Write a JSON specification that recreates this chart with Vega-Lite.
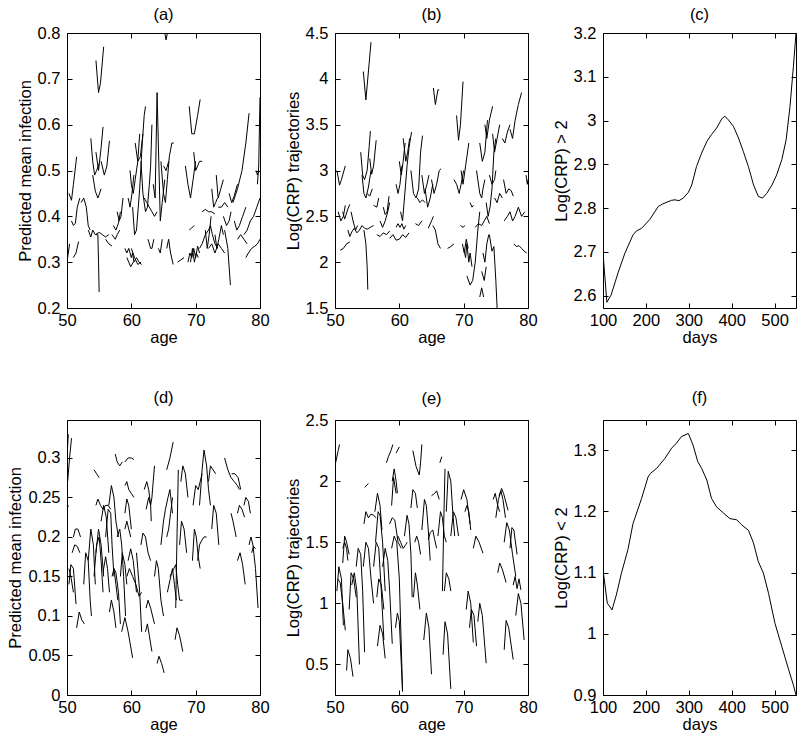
{
"$schema": "https://vega.github.io/schema/vega-lite/v6.json",
"padding": {"left": 7, "top": 6, "right": 0, "bottom": 0},
"background": "white",
"config": {
  "font": "Liberation Sans",
  "view": {"stroke": "black", "strokeWidth": 1},
  "axis": {"grid": false, "domain": false, "tickColor": "black", "tickSize": -5, "labelColor": "black", "labelFont": "Liberation Sans", "labelFontSize": 16.5, "titleFont": "Liberation Sans", "titleFontSize": 16.5, "titleFontWeight": "normal", "titleColor": "black", "labelFlush": false, "labelOverlap": false},
  "axisX": {"labelPadding": 9, "titlePadding": 1},
  "axisY": {"labelPadding": 12, "titlePadding": 4},
  "title": {"font": "Liberation Sans", "fontSize": 16.5, "fontWeight": "normal", "color": "black"},
  "line": {"color": "black", "strokeWidth": 1}
},
"datasets": {
"a": [
{"s":1,"x":65.2,"y":0.8},{"s":1,"x":65.4,"y":0.785},{"s":1,"x":65.6,"y":0.8},
{"s":2,"x":54.5,"y":0.74},{"s":2,"x":54.9,"y":0.67},{"s":2,"x":55.2,"y":0.69},{"s":2,"x":55.7,"y":0.77},
{"s":3,"x":50.3,"y":0.45},{"s":3,"x":50.7,"y":0.435},{"s":3,"x":51.0,"y":0.47},{"s":3,"x":51.5,"y":0.53},
{"s":4,"x":50.7,"y":0.39},{"s":4,"x":51.0,"y":0.38},{"s":4,"x":51.3,"y":0.385},{"s":4,"x":51.6,"y":0.42},{"s":4,"x":52.0,"y":0.44},
{"s":5,"x":52.2,"y":0.43},{"s":5,"x":52.6,"y":0.44},{"s":5,"x":53.0,"y":0.42},{"s":5,"x":53.3,"y":0.38},{"s":5,"x":53.6,"y":0.37},
{"s":6,"x":53.7,"y":0.57},{"s":6,"x":54.0,"y":0.52},{"s":6,"x":54.3,"y":0.49},{"s":6,"x":54.6,"y":0.5},{"s":6,"x":55.0,"y":0.515},
{"s":7,"x":54.5,"y":0.54},{"s":7,"x":54.9,"y":0.5},{"s":7,"x":55.3,"y":0.55},{"s":7,"x":55.6,"y":0.595},
{"s":8,"x":55.3,"y":0.52},{"s":8,"x":55.8,"y":0.49},{"s":8,"x":56.2,"y":0.51},{"s":8,"x":56.6,"y":0.565},
{"s":9,"x":54.0,"y":0.49},{"s":9,"x":54.4,"y":0.455},{"s":9,"x":54.8,"y":0.44},{"s":9,"x":55.3,"y":0.46},
{"s":10,"x":54.5,"y":0.36},{"s":10,"x":54.8,"y":0.36},{"s":10,"x":54.9,"y":0.3},{"s":10,"x":55.0,"y":0.235},
{"s":11,"x":53.3,"y":0.37},{"s":11,"x":53.7,"y":0.355},{"s":11,"x":54.0,"y":0.37},{"s":11,"x":54.4,"y":0.36},{"s":11,"x":55.0,"y":0.365},{"s":11,"x":55.5,"y":0.36},{"s":11,"x":56.0,"y":0.355},{"s":11,"x":56.5,"y":0.36},
{"s":12,"x":50.0,"y":0.3},{"s":12,"x":50.2,"y":0.32},{"s":12,"x":50.4,"y":0.34},
{"s":13,"x":51.0,"y":0.31},{"s":13,"x":51.4,"y":0.32},{"s":13,"x":51.8,"y":0.345},
{"s":14,"x":56.0,"y":0.35},{"s":14,"x":56.5,"y":0.34},{"s":14,"x":57.0,"y":0.335},
{"s":15,"x":57.2,"y":0.38},{"s":15,"x":57.6,"y":0.37},{"s":15,"x":58.0,"y":0.385},{"s":15,"x":58.3,"y":0.41},
{"s":16,"x":57.0,"y":0.36},{"s":16,"x":57.5,"y":0.35},{"s":16,"x":57.8,"y":0.36},{"s":16,"x":58.2,"y":0.37},
{"s":17,"x":57.8,"y":0.41},{"s":17,"x":58.1,"y":0.39},{"s":17,"x":58.4,"y":0.4},{"s":17,"x":58.7,"y":0.44},
{"s":18,"x":59.0,"y":0.33},{"s":18,"x":59.3,"y":0.32},{"s":18,"x":59.6,"y":0.33},{"s":18,"x":60.0,"y":0.31},{"s":18,"x":60.2,"y":0.32},{"s":18,"x":60.4,"y":0.3},{"s":18,"x":60.8,"y":0.31},{"s":18,"x":61.2,"y":0.3},{"s":18,"x":61.6,"y":0.295},
{"s":19,"x":59.3,"y":0.31},{"s":19,"x":59.6,"y":0.3},{"s":19,"x":59.9,"y":0.29},{"s":19,"x":60.3,"y":0.3},
{"s":20,"x":60.0,"y":0.33},{"s":20,"x":60.5,"y":0.31},{"s":20,"x":61.0,"y":0.295},{"s":20,"x":61.5,"y":0.3},
{"s":21,"x":59.5,"y":0.44},{"s":21,"x":59.8,"y":0.42},{"s":21,"x":60.1,"y":0.45},{"s":21,"x":60.4,"y":0.49},
{"s":22,"x":59.8,"y":0.5},{"s":22,"x":60.0,"y":0.47},{"s":22,"x":60.3,"y":0.45},{"s":22,"x":60.6,"y":0.48},{"s":22,"x":61.0,"y":0.52},{"s":22,"x":61.3,"y":0.58},
{"s":23,"x":60.2,"y":0.42},{"s":23,"x":60.5,"y":0.36},{"s":23,"x":60.8,"y":0.37},{"s":23,"x":61.3,"y":0.46},{"s":23,"x":61.7,"y":0.56},{"s":23,"x":62.0,"y":0.62},{"s":23,"x":62.2,"y":0.64},
{"s":24,"x":60.6,"y":0.56},{"s":24,"x":61.0,"y":0.52},{"s":24,"x":61.4,"y":0.53},{"s":24,"x":61.8,"y":0.58},
{"s":25,"x":61.5,"y":0.52},{"s":25,"x":61.8,"y":0.45},{"s":25,"x":62.2,"y":0.41},{"s":25,"x":62.5,"y":0.42},{"s":25,"x":62.8,"y":0.47},{"s":25,"x":63.0,"y":0.51},{"s":25,"x":63.2,"y":0.6},
{"s":26,"x":62.0,"y":0.44},{"s":26,"x":62.4,"y":0.43},{"s":26,"x":62.8,"y":0.42},{"s":26,"x":63.2,"y":0.41},{"s":26,"x":63.6,"y":0.4},{"s":26,"x":64.0,"y":0.41},
{"s":27,"x":63.4,"y":0.47},{"s":27,"x":63.7,"y":0.44},{"s":27,"x":64.0,"y":0.67},{"s":27,"x":64.5,"y":0.39},{"s":27,"x":64.8,"y":0.43},{"s":27,"x":65.2,"y":0.48},
{"s":28,"x":64.6,"y":0.52},{"s":28,"x":65.0,"y":0.45},{"s":28,"x":65.3,"y":0.43},{"s":28,"x":65.6,"y":0.48},{"s":28,"x":65.9,"y":0.53},{"s":28,"x":66.3,"y":0.56},{"s":28,"x":66.6,"y":0.56},
{"s":29,"x":65.0,"y":0.51},{"s":29,"x":65.4,"y":0.5},{"s":29,"x":65.8,"y":0.52},
{"s":30,"x":62.6,"y":0.35},{"s":30,"x":63.0,"y":0.33},{"s":30,"x":63.2,"y":0.33},{"s":30,"x":63.5,"y":0.35},
{"s":31,"x":64.2,"y":0.33},{"s":31,"x":64.5,"y":0.32},{"s":31,"x":64.8,"y":0.35},
{"s":32,"x":65.5,"y":0.33},{"s":32,"x":65.8,"y":0.35},{"s":32,"x":66.1,"y":0.32},{"s":32,"x":66.5,"y":0.295},
{"s":33,"x":67.2,"y":0.3},{"s":33,"x":67.7,"y":0.305},{"s":33,"x":68.2,"y":0.31},
{"s":34,"x":69.0,"y":0.64},{"s":34,"x":69.4,"y":0.58},{"s":34,"x":69.8,"y":0.58},{"s":34,"x":70.3,"y":0.62},{"s":34,"x":70.7,"y":0.655},
{"s":35,"x":68.4,"y":0.51},{"s":35,"x":68.8,"y":0.47},{"s":35,"x":69.2,"y":0.44},{"s":35,"x":69.6,"y":0.48},{"s":35,"x":70.0,"y":0.52},
{"s":36,"x":69.7,"y":0.54},{"s":36,"x":70.0,"y":0.5},{"s":36,"x":70.3,"y":0.51},{"s":36,"x":70.6,"y":0.52},{"s":36,"x":71.0,"y":0.52},
{"s":37,"x":69.0,"y":0.37},{"s":37,"x":69.4,"y":0.375},{"s":37,"x":69.8,"y":0.38},
{"s":38,"x":68.8,"y":0.3},{"s":38,"x":69.1,"y":0.32},{"s":38,"x":69.4,"y":0.31},{"s":38,"x":69.7,"y":0.33},{"s":38,"x":70.0,"y":0.31},{"s":38,"x":70.3,"y":0.335},{"s":38,"x":70.6,"y":0.32},
{"s":39,"x":69.2,"y":0.3},{"s":39,"x":69.5,"y":0.33},{"s":39,"x":69.8,"y":0.3},{"s":39,"x":70.1,"y":0.32},{"s":39,"x":70.4,"y":0.31},
{"s":40,"x":70.6,"y":0.33},{"s":40,"x":71.0,"y":0.34},{"s":40,"x":71.5,"y":0.36},{"s":40,"x":72.0,"y":0.37},{"s":40,"x":72.3,"y":0.38},{"s":40,"x":72.6,"y":0.36},{"s":40,"x":73.0,"y":0.34},{"s":40,"x":73.4,"y":0.33},
{"s":41,"x":71.0,"y":0.41},{"s":41,"x":71.5,"y":0.415},{"s":41,"x":72.0,"y":0.41},{"s":41,"x":72.5,"y":0.41},{"s":41,"x":73.0,"y":0.405},
{"s":42,"x":72.5,"y":0.46},{"s":42,"x":72.8,"y":0.42},{"s":42,"x":73.1,"y":0.43},{"s":42,"x":73.4,"y":0.44},
{"s":43,"x":73.2,"y":0.49},{"s":43,"x":73.5,"y":0.44},{"s":43,"x":73.9,"y":0.46},{"s":43,"x":74.3,"y":0.48},
{"s":44,"x":73.5,"y":0.42},{"s":44,"x":74.0,"y":0.42},{"s":44,"x":74.5,"y":0.43},{"s":44,"x":75.0,"y":0.42},
{"s":45,"x":74.3,"y":0.4},{"s":45,"x":74.8,"y":0.38},{"s":45,"x":75.2,"y":0.39},{"s":45,"x":75.5,"y":0.41},
{"s":46,"x":74.5,"y":0.37},{"s":46,"x":75.0,"y":0.33},{"s":46,"x":75.4,"y":0.25},
{"s":47,"x":75.8,"y":0.43},{"s":47,"x":76.5,"y":0.46},{"s":47,"x":77.2,"y":0.5},{"s":47,"x":77.8,"y":0.56},{"s":47,"x":78.3,"y":0.625},
{"s":48,"x":75.2,"y":0.45},{"s":48,"x":75.6,"y":0.43},{"s":48,"x":76.0,"y":0.445},{"s":48,"x":76.5,"y":0.47},
{"s":49,"x":76.0,"y":0.39},{"s":49,"x":76.4,"y":0.37},{"s":49,"x":76.8,"y":0.38},{"s":49,"x":77.3,"y":0.4},{"s":49,"x":77.8,"y":0.42},
{"s":50,"x":77.5,"y":0.36},{"s":50,"x":78.0,"y":0.37},{"s":50,"x":78.5,"y":0.39},{"s":50,"x":79.0,"y":0.4},{"s":50,"x":79.5,"y":0.42},{"s":50,"x":80.0,"y":0.44},
{"s":51,"x":76.5,"y":0.35},{"s":51,"x":77.0,"y":0.36},{"s":51,"x":77.5,"y":0.35},{"s":51,"x":78.0,"y":0.34},
{"s":52,"x":77.8,"y":0.31},{"s":52,"x":78.2,"y":0.32},{"s":52,"x":78.7,"y":0.33},{"s":52,"x":79.2,"y":0.335},{"s":52,"x":79.6,"y":0.34},{"s":52,"x":80.0,"y":0.35},
{"s":53,"x":79.6,"y":0.47},{"s":53,"x":79.8,"y":0.51},{"s":53,"x":80.0,"y":0.66},
{"s":54,"x":79.4,"y":0.5},{"s":54,"x":79.6,"y":0.49},{"s":54,"x":79.8,"y":0.5},
{"s":55,"x":72.0,"y":0.33},{"s":55,"x":72.5,"y":0.34},{"s":55,"x":73.0,"y":0.32},{"s":55,"x":73.5,"y":0.34},{"s":55,"x":74.0,"y":0.33},{"s":55,"x":74.5,"y":0.32},
{"s":56,"x":71.5,"y":0.37},{"s":56,"x":71.8,"y":0.33},{"s":56,"x":72.1,"y":0.36},{"s":56,"x":72.4,"y":0.4},
{"s":57,"x":73.0,"y":0.36},{"s":57,"x":73.3,"y":0.33},{"s":57,"x":73.6,"y":0.35},{"s":57,"x":74.0,"y":0.38},{"s":57,"x":74.3,"y":0.36}
],
"b": [
{"s":1,"x":54.4,"y":4.08},{"s":1,"x":54.8,"y":3.77},{"s":1,"x":55.6,"y":4.4},
{"s":2,"x":50.3,"y":3.0},{"s":2,"x":50.7,"y":2.84},{"s":2,"x":51.0,"y":2.9},{"s":2,"x":51.6,"y":3.05},
{"s":3,"x":50.5,"y":2.55},{"s":3,"x":50.9,"y":2.45},{"s":3,"x":51.3,"y":2.5},{"s":3,"x":51.6,"y":2.62},
{"s":4,"x":51.2,"y":2.55},{"s":4,"x":51.5,"y":2.47},{"s":4,"x":52.0,"y":2.58},{"s":4,"x":52.3,"y":2.63},
{"s":5,"x":52.5,"y":2.55},{"s":5,"x":52.8,"y":2.45},{"s":5,"x":53.2,"y":2.35},{"s":5,"x":53.5,"y":2.4},
{"s":6,"x":50.8,"y":2.13},{"s":6,"x":51.3,"y":2.15},{"s":6,"x":51.8,"y":2.2},{"s":6,"x":52.3,"y":2.22},
{"s":7,"x":52.0,"y":2.35},{"s":7,"x":52.3,"y":2.28},{"s":7,"x":52.6,"y":2.33},{"s":7,"x":53.0,"y":2.37},{"s":7,"x":53.4,"y":2.32},{"s":7,"x":53.8,"y":2.35},{"s":7,"x":54.2,"y":2.4},{"s":7,"x":54.6,"y":2.37},{"s":7,"x":55.0,"y":2.36},{"s":7,"x":55.5,"y":2.38},{"s":7,"x":56.0,"y":2.4},
{"s":8,"x":54.5,"y":2.35},{"s":8,"x":54.8,"y":2.2},{"s":8,"x":55.0,"y":1.95},{"s":8,"x":55.1,"y":1.7},
{"s":9,"x":54.0,"y":3.2},{"s":9,"x":54.3,"y":2.95},{"s":9,"x":54.6,"y":2.9},{"s":9,"x":55.0,"y":3.0},{"s":9,"x":55.3,"y":3.25},{"s":9,"x":55.5,"y":3.43},
{"s":10,"x":54.2,"y":2.95},{"s":10,"x":54.5,"y":2.75},{"s":10,"x":54.8,"y":2.7},{"s":10,"x":55.2,"y":2.82},{"s":10,"x":55.6,"y":3.0},
{"s":11,"x":55.4,"y":3.13},{"s":11,"x":55.7,"y":2.96},{"s":11,"x":56.0,"y":3.05},{"s":11,"x":56.4,"y":3.33},
{"s":12,"x":55.0,"y":2.75},{"s":12,"x":55.4,"y":2.72},{"s":12,"x":55.8,"y":2.8},
{"s":13,"x":56.0,"y":2.62},{"s":13,"x":56.5,"y":2.6},{"s":13,"x":56.8,"y":2.7},
{"s":14,"x":57.0,"y":2.45},{"s":14,"x":57.4,"y":2.38},{"s":14,"x":57.8,"y":2.45},{"s":14,"x":58.2,"y":2.55},{"s":14,"x":58.5,"y":2.65},
{"s":15,"x":57.5,"y":2.6},{"s":15,"x":57.8,"y":2.52},{"s":15,"x":58.1,"y":2.55},{"s":15,"x":58.4,"y":2.72},
{"s":16,"x":56.5,"y":2.3},{"s":16,"x":57.0,"y":2.28},{"s":16,"x":57.5,"y":2.32},{"s":16,"x":58.0,"y":2.3},{"s":16,"x":58.5,"y":2.34},
{"s":17,"x":58.5,"y":2.26},{"s":17,"x":59.0,"y":2.3},{"s":17,"x":59.5,"y":2.24},{"s":17,"x":60.0,"y":2.25},{"s":17,"x":60.5,"y":2.3},{"s":17,"x":61.0,"y":2.27},{"s":17,"x":61.5,"y":2.32},
{"s":18,"x":59.5,"y":2.38},{"s":18,"x":59.8,"y":2.42},{"s":18,"x":60.1,"y":2.38},{"s":18,"x":60.4,"y":2.42},{"s":18,"x":60.7,"y":2.36},{"s":18,"x":61.0,"y":2.4},
{"s":19,"x":59.5,"y":2.85},{"s":19,"x":59.8,"y":2.75},{"s":19,"x":60.1,"y":2.85},{"s":19,"x":60.4,"y":3.05},
{"s":20,"x":60.0,"y":3.1},{"s":20,"x":60.3,"y":2.95},{"s":20,"x":60.6,"y":3.1},{"s":20,"x":60.9,"y":3.3},
{"s":21,"x":60.2,"y":2.55},{"s":21,"x":60.5,"y":2.45},{"s":21,"x":60.8,"y":2.7},{"s":21,"x":61.2,"y":3.05},{"s":21,"x":61.5,"y":3.25},{"s":21,"x":61.9,"y":3.42},
{"s":22,"x":60.6,"y":3.35},{"s":22,"x":61.0,"y":3.1},{"s":22,"x":61.3,"y":3.2},{"s":22,"x":61.6,"y":3.35},
{"s":23,"x":61.8,"y":3.0},{"s":23,"x":62.2,"y":2.75},{"s":23,"x":62.6,"y":2.7},{"s":23,"x":63.0,"y":2.8},{"s":23,"x":63.3,"y":3.2},{"s":23,"x":63.6,"y":3.38},
{"s":24,"x":63.5,"y":2.95},{"s":24,"x":63.9,"y":2.75},{"s":24,"x":64.3,"y":2.85},{"s":24,"x":64.6,"y":2.95},
{"s":25,"x":64.0,"y":2.8},{"s":25,"x":64.4,"y":2.6},{"s":25,"x":64.8,"y":2.7},{"s":25,"x":65.2,"y":2.85},
{"s":26,"x":65.0,"y":2.9},{"s":26,"x":65.4,"y":2.75},{"s":26,"x":65.8,"y":2.85},{"s":26,"x":66.2,"y":3.0},{"s":26,"x":66.5,"y":3.02},
{"s":27,"x":62.8,"y":2.7},{"s":27,"x":63.2,"y":2.65},{"s":27,"x":63.6,"y":2.68},{"s":27,"x":64.0,"y":2.65},
{"s":28,"x":65.3,"y":3.9},{"s":28,"x":65.6,"y":3.72},{"s":28,"x":66.0,"y":3.88},{"s":28,"x":66.2,"y":3.88},
{"s":29,"x":62.5,"y":2.42},{"s":29,"x":63.0,"y":2.4},{"s":29,"x":63.5,"y":2.45},
{"s":30,"x":64.5,"y":2.37},{"s":30,"x":65.0,"y":2.45},{"s":30,"x":65.3,"y":2.5},
{"s":31,"x":65.2,"y":2.4},{"s":31,"x":65.6,"y":2.35},{"s":31,"x":66.0,"y":2.2},{"s":31,"x":66.4,"y":2.15},
{"s":32,"x":67.5,"y":2.15},{"s":32,"x":68.0,"y":2.17},{"s":32,"x":68.5,"y":2.2},
{"s":33,"x":68.9,"y":3.6},{"s":33,"x":69.2,"y":3.33},{"s":33,"x":69.5,"y":3.5},{"s":33,"x":69.9,"y":3.97},
{"s":34,"x":68.5,"y":2.9},{"s":34,"x":68.9,"y":2.85},{"s":34,"x":69.3,"y":2.75},{"s":34,"x":69.6,"y":2.85},{"s":34,"x":70.0,"y":3.0},
{"s":35,"x":69.6,"y":3.0},{"s":35,"x":69.9,"y":2.85},{"s":35,"x":70.3,"y":3.05},{"s":35,"x":70.8,"y":3.3},
{"s":36,"x":69.5,"y":2.4},{"s":36,"x":69.9,"y":2.38},{"s":36,"x":70.2,"y":2.4},
{"s":37,"x":71.0,"y":2.65},{"s":37,"x":71.3,"y":2.6},{"s":37,"x":71.5,"y":2.62},
{"s":38,"x":72.0,"y":3.0},{"s":38,"x":72.5,"y":2.75},{"s":38,"x":72.8,"y":2.7},{"s":38,"x":73.0,"y":2.8},{"s":38,"x":73.3,"y":2.9},
{"s":39,"x":72.5,"y":3.3},{"s":39,"x":72.9,"y":3.1},{"s":39,"x":73.3,"y":3.2},{"s":39,"x":73.7,"y":3.55},
{"s":40,"x":73.3,"y":3.5},{"s":40,"x":73.6,"y":3.35},{"s":40,"x":74.0,"y":3.55},{"s":40,"x":74.5,"y":3.7},
{"s":41,"x":74.5,"y":3.4},{"s":41,"x":74.8,"y":3.2},{"s":41,"x":75.2,"y":3.35},{"s":41,"x":75.6,"y":3.5},
{"s":42,"x":74.0,"y":2.95},{"s":42,"x":74.4,"y":2.85},{"s":42,"x":74.8,"y":2.9},{"s":42,"x":75.0,"y":3.0},
{"s":43,"x":76.0,"y":3.35},{"s":43,"x":76.4,"y":3.3},{"s":43,"x":76.8,"y":3.42},{"s":43,"x":77.2,"y":3.5},
{"s":44,"x":77.2,"y":3.45},{"s":44,"x":77.6,"y":3.35},{"s":44,"x":78.0,"y":3.55},{"s":44,"x":78.5,"y":3.72},{"s":44,"x":79.0,"y":3.85},
{"s":45,"x":76.2,"y":2.9},{"s":45,"x":76.6,"y":2.75},{"s":45,"x":77.0,"y":2.8},{"s":45,"x":77.4,"y":2.78},{"s":45,"x":77.7,"y":2.72},
{"s":46,"x":74.8,"y":2.7},{"s":46,"x":75.2,"y":2.65},{"s":46,"x":75.6,"y":2.75},{"s":46,"x":76.0,"y":2.7},
{"s":47,"x":76.3,"y":2.45},{"s":47,"x":76.8,"y":2.5},{"s":47,"x":77.2,"y":2.55},{"s":47,"x":77.6,"y":2.45},{"s":47,"x":78.0,"y":2.5},{"s":47,"x":78.5,"y":2.6},{"s":47,"x":79.0,"y":2.5},{"s":47,"x":79.5,"y":2.55},
{"s":48,"x":79.7,"y":2.95},{"s":48,"x":79.9,"y":2.85},{"s":48,"x":80.0,"y":2.9},
{"s":49,"x":70.0,"y":2.15},{"s":49,"x":70.3,"y":2.05},{"s":49,"x":70.5,"y":2.2},{"s":49,"x":70.8,"y":2.0},{"s":49,"x":71.0,"y":2.1},{"s":49,"x":71.3,"y":1.95},
{"s":50,"x":70.5,"y":1.85},{"s":50,"x":71.0,"y":1.75},{"s":50,"x":71.4,"y":1.8},{"s":50,"x":71.8,"y":2.0},{"s":50,"x":72.2,"y":2.35},{"s":50,"x":72.5,"y":2.55},
{"s":51,"x":74.0,"y":2.3},{"s":51,"x":74.4,"y":2.12},{"s":51,"x":74.7,"y":2.17},{"s":51,"x":75.0,"y":1.8},{"s":51,"x":75.2,"y":1.5},
{"s":52,"x":73.0,"y":2.1},{"s":52,"x":73.3,"y":2.0},{"s":52,"x":73.6,"y":2.2},{"s":52,"x":73.9,"y":2.3},
{"s":53,"x":72.8,"y":1.9},{"s":53,"x":73.2,"y":1.8},{"s":53,"x":73.5,"y":1.95},
{"s":54,"x":72.5,"y":1.62},{"s":54,"x":72.8,"y":1.72},{"s":54,"x":73.1,"y":1.62},
{"s":55,"x":71.8,"y":2.38},{"s":55,"x":72.3,"y":2.42},{"s":55,"x":72.8,"y":2.4},{"s":55,"x":73.2,"y":2.45},{"s":55,"x":73.6,"y":2.5},{"s":55,"x":74.0,"y":2.42},
{"s":56,"x":77.8,"y":2.2},{"s":56,"x":78.2,"y":2.17},{"s":56,"x":78.6,"y":2.18},{"s":56,"x":79.0,"y":2.15},{"s":56,"x":79.4,"y":2.12},{"s":56,"x":79.8,"y":2.1},
{"s":57,"x":73.5,"y":2.65},{"s":57,"x":73.8,"y":2.5},{"s":57,"x":74.1,"y":2.6},{"s":57,"x":74.4,"y":2.8},{"s":57,"x":74.7,"y":3.2},{"s":57,"x":75.0,"y":3.35},
{"s":58,"x":69.8,"y":2.2},{"s":58,"x":70.1,"y":2.1},{"s":58,"x":70.4,"y":2.25},{"s":58,"x":70.7,"y":2.15}
],
"c": [
{"x":100,"y":2.697},{"x":109,"y":2.585},{"x":119,"y":2.602},{"x":135,"y":2.652},{"x":151,"y":2.697},{"x":170,"y":2.739},{"x":178,"y":2.748},{"x":190,"y":2.754},{"x":209,"y":2.774},{"x":229,"y":2.804},{"x":240,"y":2.81},{"x":260,"y":2.818},{"x":268,"y":2.819},{"x":277,"y":2.817},{"x":287,"y":2.823},{"x":299,"y":2.836},{"x":307,"y":2.853},{"x":318,"y":2.895},{"x":330,"y":2.926},{"x":342,"y":2.952},{"x":353,"y":2.968},{"x":365,"y":2.983},{"x":377,"y":3.004},{"x":384,"y":3.01},{"x":392,"y":3.002},{"x":404,"y":2.987},{"x":416,"y":2.96},{"x":427,"y":2.93},{"x":439,"y":2.895},{"x":451,"y":2.853},{"x":462,"y":2.827},{"x":472,"y":2.823},{"x":482,"y":2.834},{"x":494,"y":2.853},{"x":505,"y":2.876},{"x":517,"y":2.911},{"x":527,"y":2.956},{"x":536,"y":3.032},{"x":544,"y":3.124},{"x":550,"y":3.2}
],
"d": [
{"s":1,"x":50.0,"y":0.3},{"s":1,"x":50.2,"y":0.33},
{"s":2,"x":50.1,"y":0.27},{"s":2,"x":50.4,"y":0.3},{"s":2,"x":50.7,"y":0.325},
{"s":3,"x":50.0,"y":0.235},{"s":3,"x":50.2,"y":0.24},
{"s":4,"x":50.3,"y":0.14},{"s":4,"x":50.6,"y":0.165},{"s":4,"x":51.0,"y":0.16},{"s":4,"x":51.4,"y":0.115},
{"s":5,"x":50.3,"y":0.16},{"s":5,"x":50.6,"y":0.15},{"s":5,"x":51.0,"y":0.13},
{"s":6,"x":50.8,"y":0.18},{"s":6,"x":51.2,"y":0.19},{"s":6,"x":51.6,"y":0.188},{"s":6,"x":52.0,"y":0.18},
{"s":7,"x":51.0,"y":0.2},{"s":7,"x":51.3,"y":0.21},{"s":7,"x":51.7,"y":0.21},{"s":7,"x":52.1,"y":0.2},
{"s":8,"x":51.5,"y":0.085},{"s":8,"x":51.9,"y":0.105},{"s":8,"x":52.3,"y":0.095},{"s":8,"x":52.7,"y":0.09},
{"s":9,"x":52.6,"y":0.14},{"s":9,"x":52.9,"y":0.18},{"s":9,"x":53.3,"y":0.17},{"s":9,"x":53.6,"y":0.12},{"s":9,"x":53.8,"y":0.1},
{"s":10,"x":53.3,"y":0.17},{"s":10,"x":53.7,"y":0.21},{"s":10,"x":54.1,"y":0.19},{"s":10,"x":54.4,"y":0.14},
{"s":11,"x":54.2,"y":0.15},{"s":11,"x":54.6,"y":0.19},{"s":11,"x":55.0,"y":0.2},{"s":11,"x":55.3,"y":0.17},{"s":11,"x":55.6,"y":0.13},
{"s":12,"x":54.5,"y":0.18},{"s":12,"x":54.9,"y":0.21},{"s":12,"x":55.3,"y":0.19},{"s":12,"x":55.7,"y":0.15},
{"s":13,"x":55.6,"y":0.155},{"s":13,"x":56.0,"y":0.175},{"s":13,"x":56.3,"y":0.16},{"s":13,"x":56.6,"y":0.13},
{"s":14,"x":54.2,"y":0.285},{"s":14,"x":54.6,"y":0.28},{"s":14,"x":55.0,"y":0.275},
{"s":15,"x":54.5,"y":0.24},{"s":15,"x":54.8,"y":0.248},{"s":15,"x":55.2,"y":0.24},{"s":15,"x":55.6,"y":0.235},{"s":15,"x":56.0,"y":0.24},{"s":15,"x":56.4,"y":0.24},{"s":15,"x":56.8,"y":0.235},
{"s":16,"x":55.3,"y":0.22},{"s":16,"x":55.7,"y":0.24},{"s":16,"x":56.1,"y":0.225},{"s":16,"x":56.5,"y":0.18},
{"s":17,"x":56.0,"y":0.2},{"s":17,"x":56.4,"y":0.235},{"s":17,"x":56.8,"y":0.23},{"s":17,"x":57.0,"y":0.19},{"s":17,"x":57.3,"y":0.15},
{"s":18,"x":56.5,"y":0.24},{"s":18,"x":56.9,"y":0.265},{"s":18,"x":57.3,"y":0.25},{"s":18,"x":57.6,"y":0.22},{"s":18,"x":58.0,"y":0.2},
{"s":19,"x":56.6,"y":0.105},{"s":19,"x":56.9,"y":0.12},{"s":19,"x":57.3,"y":0.105},{"s":19,"x":57.6,"y":0.085},
{"s":20,"x":57.3,"y":0.16},{"s":20,"x":57.6,"y":0.155},{"s":20,"x":58.0,"y":0.13},{"s":20,"x":58.3,"y":0.09},
{"s":21,"x":57.8,"y":0.2},{"s":21,"x":58.2,"y":0.21},{"s":21,"x":58.5,"y":0.19},{"s":21,"x":58.8,"y":0.15},{"s":21,"x":59.1,"y":0.1},
{"s":22,"x":58.3,"y":0.15},{"s":22,"x":58.6,"y":0.18},{"s":22,"x":59.0,"y":0.165},{"s":22,"x":59.3,"y":0.14},
{"s":23,"x":58.5,"y":0.08},{"s":23,"x":59.0,"y":0.098},{"s":23,"x":59.5,"y":0.08},{"s":23,"x":60.2,"y":0.047},
{"s":24,"x":57.5,"y":0.305},{"s":24,"x":57.8,"y":0.295},{"s":24,"x":58.2,"y":0.29},{"s":24,"x":58.6,"y":0.295},
{"s":25,"x":59.0,"y":0.295},{"s":25,"x":59.5,"y":0.3},{"s":25,"x":60.0,"y":0.3},{"s":25,"x":60.4,"y":0.298},
{"s":26,"x":59.0,"y":0.265},{"s":26,"x":59.3,"y":0.27},{"s":26,"x":59.6,"y":0.26},{"s":26,"x":60.0,"y":0.255},{"s":26,"x":60.4,"y":0.25},
{"s":27,"x":59.0,"y":0.23},{"s":27,"x":59.3,"y":0.248},{"s":27,"x":59.6,"y":0.24},{"s":27,"x":60.0,"y":0.21},
{"s":28,"x":59.0,"y":0.21},{"s":28,"x":59.3,"y":0.22},{"s":28,"x":59.6,"y":0.21},{"s":28,"x":59.9,"y":0.2},
{"s":29,"x":59.5,"y":0.17},{"s":29,"x":59.9,"y":0.185},{"s":29,"x":60.3,"y":0.17},{"s":29,"x":60.8,"y":0.13},
{"s":30,"x":59.3,"y":0.15},{"s":30,"x":59.7,"y":0.16},{"s":30,"x":60.2,"y":0.15},{"s":30,"x":60.7,"y":0.14},{"s":30,"x":61.2,"y":0.125},{"s":30,"x":61.6,"y":0.13},
{"s":31,"x":60.8,"y":0.18},{"s":31,"x":61.0,"y":0.16},{"s":31,"x":61.3,"y":0.13},{"s":31,"x":61.6,"y":0.08},
{"s":32,"x":61.5,"y":0.19},{"s":32,"x":61.8,"y":0.205},{"s":32,"x":62.2,"y":0.2},{"s":32,"x":62.6,"y":0.18},{"s":32,"x":63.0,"y":0.17},
{"s":33,"x":62.0,"y":0.26},{"s":33,"x":62.4,"y":0.27},{"s":33,"x":62.7,"y":0.26},{"s":33,"x":63.0,"y":0.24},{"s":33,"x":63.2,"y":0.25},{"s":33,"x":63.6,"y":0.29},
{"s":34,"x":62.3,"y":0.235},{"s":34,"x":62.7,"y":0.25},{"s":34,"x":63.0,"y":0.24},{"s":34,"x":63.1,"y":0.22},
{"s":35,"x":62.2,"y":0.08},{"s":35,"x":62.5,"y":0.09},{"s":35,"x":62.8,"y":0.075},{"s":35,"x":63.2,"y":0.055},
{"s":36,"x":62.3,"y":0.11},{"s":36,"x":62.6,"y":0.12},{"s":36,"x":63.0,"y":0.11},{"s":36,"x":63.6,"y":0.09},
{"s":37,"x":63.6,"y":0.15},{"s":37,"x":63.9,"y":0.17},{"s":37,"x":64.2,"y":0.16},{"s":37,"x":64.6,"y":0.12},{"s":37,"x":65.0,"y":0.1},
{"s":38,"x":64.0,"y":0.04},{"s":38,"x":64.3,"y":0.049},{"s":38,"x":64.7,"y":0.04},{"s":38,"x":65.1,"y":0.028},
{"s":39,"x":64.6,"y":0.19},{"s":39,"x":65.0,"y":0.22},{"s":39,"x":65.3,"y":0.235},{"s":39,"x":65.7,"y":0.25},{"s":39,"x":66.0,"y":0.26},{"s":39,"x":66.4,"y":0.23},
{"s":40,"x":65.5,"y":0.285},{"s":40,"x":66.0,"y":0.3},{"s":40,"x":66.5,"y":0.32},
{"s":41,"x":65.6,"y":0.13},{"s":41,"x":66.0,"y":0.145},{"s":41,"x":66.4,"y":0.16},{"s":41,"x":66.7,"y":0.14},{"s":41,"x":67.0,"y":0.12},
{"s":42,"x":66.0,"y":0.15},{"s":42,"x":66.3,"y":0.155},{"s":42,"x":66.6,"y":0.16},{"s":42,"x":66.9,"y":0.165},{"s":42,"x":67.2,"y":0.14},{"s":42,"x":67.5,"y":0.12},{"s":42,"x":68.0,"y":0.12},
{"s":43,"x":66.9,"y":0.11},{"s":43,"x":67.1,"y":0.2},{"s":43,"x":67.3,"y":0.285},
{"s":44,"x":66.8,"y":0.07},{"s":44,"x":67.1,"y":0.085},{"s":44,"x":67.5,"y":0.075},{"s":44,"x":68.0,"y":0.055},
{"s":45,"x":67.5,"y":0.19},{"s":45,"x":67.8,"y":0.22},{"s":45,"x":68.2,"y":0.21},{"s":45,"x":68.6,"y":0.18},
{"s":46,"x":67.7,"y":0.27},{"s":46,"x":68.0,"y":0.29},{"s":46,"x":68.4,"y":0.28},{"s":46,"x":68.8,"y":0.25},
{"s":47,"x":69.5,"y":0.17},{"s":47,"x":69.8,"y":0.21},{"s":47,"x":70.1,"y":0.2},{"s":47,"x":70.4,"y":0.175},{"s":47,"x":70.7,"y":0.16},
{"s":48,"x":69.6,"y":0.24},{"s":48,"x":70.0,"y":0.265},{"s":48,"x":70.4,"y":0.26},{"s":48,"x":70.7,"y":0.27},{"s":48,"x":71.0,"y":0.28},
{"s":49,"x":70.3,"y":0.17},{"s":49,"x":70.6,"y":0.19},{"s":49,"x":70.9,"y":0.195},{"s":49,"x":71.3,"y":0.2},{"s":49,"x":71.7,"y":0.2},
{"s":50,"x":70.6,"y":0.24},{"s":50,"x":71.0,"y":0.285},{"s":50,"x":71.3,"y":0.31},{"s":50,"x":71.7,"y":0.29},{"s":50,"x":72.0,"y":0.26},{"s":50,"x":72.3,"y":0.24},
{"s":51,"x":72.0,"y":0.27},{"s":51,"x":72.3,"y":0.29},{"s":51,"x":72.7,"y":0.285},{"s":51,"x":73.1,"y":0.28},
{"s":52,"x":72.5,"y":0.21},{"s":52,"x":72.8,"y":0.24},{"s":52,"x":73.2,"y":0.23},{"s":52,"x":73.6,"y":0.19},
{"s":53,"x":74.5,"y":0.3},{"s":53,"x":75.0,"y":0.285},{"s":53,"x":75.5,"y":0.275},{"s":53,"x":76.0,"y":0.27},{"s":53,"x":76.5,"y":0.265},{"s":53,"x":76.8,"y":0.26},
{"s":54,"x":75.6,"y":0.28},{"s":54,"x":76.1,"y":0.28},{"s":54,"x":76.6,"y":0.275},{"s":54,"x":77.0,"y":0.26},
{"s":55,"x":75.5,"y":0.23},{"s":55,"x":75.8,"y":0.22},{"s":55,"x":76.3,"y":0.2},
{"s":56,"x":76.5,"y":0.23},{"s":56,"x":76.8,"y":0.24},{"s":56,"x":77.2,"y":0.235},{"s":56,"x":77.6,"y":0.225},
{"s":57,"x":77.5,"y":0.24},{"s":57,"x":77.8,"y":0.25},{"s":57,"x":78.2,"y":0.245},{"s":57,"x":78.5,"y":0.23},
{"s":58,"x":76.5,"y":0.17},{"s":58,"x":76.9,"y":0.18},{"s":58,"x":77.3,"y":0.165},{"s":58,"x":77.7,"y":0.14},
{"s":59,"x":78.3,"y":0.19},{"s":59,"x":78.6,"y":0.2},{"s":59,"x":78.9,"y":0.19},{"s":59,"x":79.3,"y":0.16},{"s":59,"x":79.7,"y":0.11},
{"s":60,"x":78.7,"y":0.18},{"s":60,"x":79.0,"y":0.188},{"s":60,"x":79.3,"y":0.185},
{"s":61,"x":65.5,"y":0.2},{"s":61,"x":65.8,"y":0.21},{"s":61,"x":66.1,"y":0.23},{"s":61,"x":66.4,"y":0.25},
{"s":62,"x":57.0,"y":0.15},{"s":62,"x":57.3,"y":0.16},{"s":62,"x":57.6,"y":0.14},{"s":62,"x":57.9,"y":0.12}
],
"e": [
{"s":1,"x":50.0,"y":2.35},{"s":1,"x":50.1,"y":2.2},
{"s":2,"x":50.1,"y":2.15},{"s":2,"x":50.5,"y":2.25},{"s":2,"x":50.7,"y":2.3},
{"s":3,"x":50.0,"y":1.82},{"s":3,"x":50.1,"y":1.8},
{"s":4,"x":50.3,"y":1.1},{"s":4,"x":50.6,"y":1.3},{"s":4,"x":51.0,"y":1.2},{"s":4,"x":51.3,"y":0.82},
{"s":5,"x":50.4,"y":1.2},{"s":5,"x":50.8,"y":1.17},{"s":5,"x":51.2,"y":1.0},{"s":5,"x":51.6,"y":0.78},
{"s":6,"x":51.2,"y":1.45},{"s":6,"x":51.5,"y":1.5},{"s":6,"x":51.8,"y":1.45},{"s":6,"x":52.0,"y":1.35},
{"s":7,"x":51.2,"y":1.33},{"s":7,"x":51.5,"y":1.55},{"s":7,"x":51.8,"y":1.5},{"s":7,"x":52.2,"y":1.4},
{"s":8,"x":51.8,"y":0.45},{"s":8,"x":52.0,"y":0.62},{"s":8,"x":52.4,"y":0.55},{"s":8,"x":52.8,"y":0.4},
{"s":9,"x":52.2,"y":0.95},{"s":9,"x":52.5,"y":1.25},{"s":9,"x":52.9,"y":1.2},{"s":9,"x":53.3,"y":1.05},
{"s":10,"x":52.6,"y":1.15},{"s":10,"x":53.0,"y":1.25},{"s":10,"x":53.4,"y":1.1},{"s":10,"x":53.8,"y":0.5},
{"s":11,"x":53.3,"y":1.3},{"s":11,"x":53.6,"y":1.45},{"s":11,"x":54.0,"y":1.4},{"s":11,"x":54.3,"y":1.1},{"s":11,"x":54.6,"y":0.6},
{"s":12,"x":54.4,"y":1.3},{"s":12,"x":54.8,"y":1.5},{"s":12,"x":55.2,"y":1.45},{"s":12,"x":55.6,"y":1.2},{"s":12,"x":56.0,"y":1.0},
{"s":13,"x":54.5,"y":1.65},{"s":13,"x":54.8,"y":1.75},{"s":13,"x":55.2,"y":1.7},{"s":13,"x":55.6,"y":1.73},{"s":13,"x":56.0,"y":1.72},{"s":13,"x":56.4,"y":1.7},
{"s":14,"x":54.6,"y":1.95},{"s":14,"x":55.2,"y":1.98},
{"s":15,"x":56.2,"y":1.75},{"s":15,"x":56.6,"y":1.9},{"s":15,"x":57.0,"y":1.8},{"s":15,"x":57.3,"y":1.6},
{"s":16,"x":56.3,"y":1.5},{"s":16,"x":56.7,"y":1.75},{"s":16,"x":57.0,"y":1.72},{"s":16,"x":57.4,"y":1.5},{"s":16,"x":57.8,"y":1.1},
{"s":17,"x":56.0,"y":1.3},{"s":17,"x":56.4,"y":1.5},{"s":17,"x":56.8,"y":1.45},{"s":17,"x":57.2,"y":1.1},{"s":17,"x":57.6,"y":0.7},
{"s":18,"x":56.5,"y":1.05},{"s":18,"x":56.8,"y":1.2},{"s":18,"x":57.2,"y":1.15},{"s":18,"x":57.6,"y":0.95},
{"s":19,"x":56.6,"y":0.65},{"s":19,"x":57.0,"y":0.82},{"s":19,"x":57.4,"y":0.75},{"s":19,"x":57.8,"y":0.55},
{"s":20,"x":57.4,"y":1.3},{"s":20,"x":57.8,"y":1.45},{"s":20,"x":58.2,"y":1.35},{"s":20,"x":58.5,"y":1.1},{"s":20,"x":58.9,"y":0.67},
{"s":21,"x":58.9,"y":2.0},{"s":21,"x":59.2,"y":2.1},{"s":21,"x":59.5,"y":2.0},{"s":21,"x":59.7,"y":1.9},
{"s":22,"x":58.8,"y":1.8},{"s":22,"x":59.1,"y":2.03},{"s":22,"x":59.5,"y":1.9},
{"s":23,"x":58.0,"y":2.15},{"s":23,"x":58.3,"y":2.2},{"s":23,"x":58.7,"y":2.25},{"s":23,"x":59.0,"y":2.3},
{"s":24,"x":59.5,"y":2.23},{"s":24,"x":60.0,"y":2.28},
{"s":25,"x":58.5,"y":1.65},{"s":25,"x":58.9,"y":1.7},{"s":25,"x":59.3,"y":1.68},{"s":25,"x":59.8,"y":1.5},{"s":25,"x":60.3,"y":1.45},
{"s":26,"x":58.8,"y":1.45},{"s":26,"x":59.2,"y":1.55},{"s":26,"x":59.6,"y":1.5},{"s":26,"x":60.0,"y":1.2},{"s":26,"x":60.5,"y":0.28},
{"s":27,"x":59.4,"y":0.8},{"s":27,"x":59.7,"y":0.92},{"s":27,"x":60.0,"y":0.85},{"s":27,"x":60.5,"y":0.28},
{"s":28,"x":59.8,"y":1.55},{"s":28,"x":60.2,"y":1.5},{"s":28,"x":60.6,"y":1.45},{"s":28,"x":61.0,"y":1.48},{"s":28,"x":61.2,"y":1.5},
{"s":29,"x":60.8,"y":1.55},{"s":29,"x":61.2,"y":1.72},{"s":29,"x":61.5,"y":1.65},{"s":29,"x":61.8,"y":1.4},{"s":29,"x":62.0,"y":1.05},
{"s":30,"x":62.4,"y":1.5},{"s":30,"x":62.7,"y":1.55},{"s":30,"x":63.0,"y":1.5},{"s":30,"x":63.3,"y":1.4},
{"s":31,"x":62.2,"y":1.05},{"s":31,"x":62.5,"y":1.25},{"s":31,"x":62.8,"y":1.15},{"s":31,"x":63.2,"y":0.95},
{"s":32,"x":61.8,"y":1.78},{"s":32,"x":62.1,"y":1.93},{"s":32,"x":62.5,"y":1.9},{"s":32,"x":62.8,"y":1.78},
{"s":33,"x":62.1,"y":2.25},{"s":33,"x":62.6,"y":2.12},{"s":33,"x":63.1,"y":2.05},{"s":33,"x":63.3,"y":2.15},{"s":33,"x":63.5,"y":2.3},
{"s":34,"x":63.5,"y":1.6},{"s":34,"x":63.9,"y":1.85},{"s":34,"x":64.2,"y":1.8},{"s":34,"x":64.5,"y":1.6},{"s":34,"x":64.8,"y":1.35},
{"s":35,"x":63.8,"y":0.7},{"s":35,"x":64.2,"y":0.92},{"s":35,"x":64.6,"y":0.8},{"s":35,"x":65.0,"y":0.42},
{"s":36,"x":64.5,"y":1.52},{"s":36,"x":64.8,"y":1.58},{"s":36,"x":65.2,"y":1.6},{"s":36,"x":65.5,"y":1.52},{"s":36,"x":65.8,"y":1.45},
{"s":37,"x":65.0,"y":1.88},{"s":37,"x":65.5,"y":1.9},{"s":37,"x":65.8,"y":1.92},{"s":37,"x":66.2,"y":1.85},
{"s":38,"x":66.3,"y":2.15},{"s":38,"x":66.6,"y":2.2},
{"s":39,"x":66.7,"y":1.1},{"s":39,"x":66.9,"y":1.65},{"s":39,"x":67.1,"y":2.1},
{"s":40,"x":66.0,"y":1.55},{"s":40,"x":66.4,"y":1.75},{"s":40,"x":66.7,"y":1.7},{"s":40,"x":67.0,"y":1.55},{"s":40,"x":67.3,"y":1.5},
{"s":41,"x":67.3,"y":1.75},{"s":41,"x":67.6,"y":2.08},{"s":41,"x":68.0,"y":2.0},{"s":41,"x":68.3,"y":1.75},{"s":41,"x":68.6,"y":1.55},
{"s":42,"x":66.8,"y":0.58},{"s":42,"x":67.1,"y":0.85},{"s":42,"x":67.5,"y":0.75},{"s":42,"x":68.0,"y":0.3},
{"s":43,"x":67.0,"y":1.1},{"s":43,"x":67.3,"y":1.25},{"s":43,"x":67.7,"y":1.2},{"s":43,"x":68.0,"y":1.1},
{"s":44,"x":68.0,"y":1.55},{"s":44,"x":68.4,"y":1.75},{"s":44,"x":68.8,"y":1.7},{"s":44,"x":69.2,"y":1.55},
{"s":45,"x":69.6,"y":1.85},{"s":45,"x":70.0,"y":1.93},{"s":45,"x":70.5,"y":1.85},{"s":45,"x":71.0,"y":1.65},
{"s":46,"x":70.2,"y":1.75},{"s":46,"x":70.5,"y":1.8},{"s":46,"x":70.8,"y":1.75},{"s":46,"x":71.1,"y":1.6},
{"s":47,"x":70.4,"y":0.95},{"s":47,"x":70.7,"y":1.1},{"s":47,"x":71.1,"y":1.0},{"s":47,"x":71.5,"y":0.68},
{"s":48,"x":70.9,"y":0.8},{"s":48,"x":71.2,"y":0.95},{"s":48,"x":71.6,"y":0.9},{"s":48,"x":72.0,"y":0.65},
{"s":49,"x":72.2,"y":0.85},{"s":49,"x":72.5,"y":1.0},{"s":49,"x":72.9,"y":0.9},{"s":49,"x":73.5,"y":0.51},
{"s":50,"x":71.5,"y":1.45},{"s":50,"x":71.9,"y":1.55},{"s":50,"x":72.4,"y":1.5},{"s":50,"x":73.0,"y":1.41},
{"s":51,"x":74.6,"y":1.85},{"s":51,"x":74.9,"y":1.9},{"s":51,"x":75.3,"y":1.8},{"s":51,"x":75.6,"y":1.75},
{"s":52,"x":75.0,"y":1.7},{"s":52,"x":75.4,"y":1.85},{"s":52,"x":75.8,"y":1.92},{"s":52,"x":76.1,"y":1.85},{"s":52,"x":76.5,"y":1.7},
{"s":53,"x":75.5,"y":1.88},{"s":53,"x":75.9,"y":1.94},{"s":53,"x":76.2,"y":1.9},{"s":53,"x":76.9,"y":1.76},
{"s":54,"x":76.3,"y":1.5},{"s":54,"x":76.7,"y":1.66},{"s":54,"x":77.1,"y":1.6},{"s":54,"x":77.6,"y":1.4},{"s":54,"x":78.1,"y":1.22},
{"s":55,"x":75.3,"y":1.25},{"s":55,"x":75.6,"y":1.33},{"s":55,"x":76.0,"y":1.28},{"s":55,"x":76.6,"y":1.17},
{"s":56,"x":77.7,"y":1.15},{"s":56,"x":78.0,"y":1.22},{"s":56,"x":78.3,"y":1.12},{"s":56,"x":78.6,"y":1.2},{"s":56,"x":78.9,"y":1.11},
{"s":57,"x":78.1,"y":0.9},{"s":57,"x":78.5,"y":1.08},{"s":57,"x":78.9,"y":1.0},{"s":57,"x":79.4,"y":0.7},
{"s":58,"x":76.3,"y":0.62},{"s":58,"x":76.6,"y":0.86},{"s":58,"x":77.0,"y":0.8},{"s":58,"x":77.7,"y":0.54},
{"s":59,"x":77.2,"y":1.45},{"s":59,"x":77.5,"y":1.62},{"s":59,"x":77.8,"y":1.6},{"s":59,"x":78.3,"y":1.4}
],
"f": [
{"x":100,"y":1.104},{"x":110,"y":1.05},{"x":121,"y":1.039},{"x":131,"y":1.063},{"x":143,"y":1.099},{"x":158,"y":1.137},{"x":170,"y":1.18},{"x":190,"y":1.221},{"x":205,"y":1.256},{"x":211,"y":1.262},{"x":225,"y":1.27},{"x":244,"y":1.286},{"x":260,"y":1.303},{"x":271,"y":1.311},{"x":283,"y":1.322},{"x":299,"y":1.327},{"x":310,"y":1.308},{"x":321,"y":1.281},{"x":330,"y":1.27},{"x":342,"y":1.251},{"x":353,"y":1.221},{"x":365,"y":1.207},{"x":381,"y":1.197},{"x":396,"y":1.188},{"x":412,"y":1.186},{"x":423,"y":1.178},{"x":439,"y":1.169},{"x":451,"y":1.148},{"x":462,"y":1.118},{"x":474,"y":1.099},{"x":486,"y":1.066},{"x":501,"y":1.017},{"x":517,"y":0.979},{"x":533,"y":0.941},{"x":544,"y":0.916},{"x":550,"y":0.9}
]
},
"columns": 3,
"spacing": {"row": 112, "column": 75},
"bounds": "flush",
"concat": [
 {"width": 193, "height": 275, "title": {"text": "(a)", "offset": 2}, "data": {"name": "a"},
  "layer": [
   {"mark": {"type": "line", "clip": true}, "encoding": {"x": {"field": "x", "type": "quantitative", "scale": {"domain": [50, 80], "nice": false, "zero": false}, "axis": {"values": [50, 60, 70, 80], "title": "age"}}, "y": {"field": "y", "type": "quantitative", "scale": {"domain": [0.2, 0.8], "nice": false, "zero": false}, "axis": {"values": [0.2, 0.3, 0.4, 0.5, 0.6, 0.7, 0.8], "format": "~g", "title": "Predicted mean infection"}}, "detail": {"field": "s"}}},
   {"mark": {"type": "line", "clip": true, "strokeOpacity": 0}, "encoding": {"x": {"field": "x", "type": "quantitative", "axis": {"orient": "top", "values": [50, 60, 70, 80], "labels": false, "title": null}}, "y": {"field": "y", "type": "quantitative", "axis": {"orient": "right", "values": [0.2, 0.3, 0.4, 0.5, 0.6, 0.7, 0.8], "labels": false, "title": null}}, "detail": {"field": "s"}}}
  ],
  "resolve": {"axis": {"x": "independent", "y": "independent"}}},
 {"width": 193, "height": 275, "title": {"text": "(b)", "offset": 2}, "data": {"name": "b"},
  "layer": [
   {"mark": {"type": "line", "clip": true}, "encoding": {"x": {"field": "x", "type": "quantitative", "scale": {"domain": [50, 80], "nice": false, "zero": false}, "axis": {"values": [50, 60, 70, 80], "title": "age"}}, "y": {"field": "y", "type": "quantitative", "scale": {"domain": [1.5, 4.5], "nice": false, "zero": false}, "axis": {"values": [1.5, 2, 2.5, 3, 3.5, 4, 4.5], "format": "~g", "title": "Log(CRP) trajectories"}}, "detail": {"field": "s"}}},
   {"mark": {"type": "line", "clip": true, "strokeOpacity": 0}, "encoding": {"x": {"field": "x", "type": "quantitative", "axis": {"orient": "top", "values": [50, 60, 70, 80], "labels": false, "title": null}}, "y": {"field": "y", "type": "quantitative", "axis": {"orient": "right", "values": [1.5, 2, 2.5, 3, 3.5, 4, 4.5], "labels": false, "title": null}}, "detail": {"field": "s"}}}
  ],
  "resolve": {"axis": {"x": "independent", "y": "independent"}}},
 {"width": 193, "height": 275, "title": {"text": "(c)", "offset": 2}, "data": {"name": "c"},
  "layer": [
   {"mark": {"type": "line", "clip": true}, "encoding": {"x": {"field": "x", "type": "quantitative", "scale": {"domain": [100, 550], "nice": false, "zero": false}, "axis": {"values": [100, 200, 300, 400, 500], "title": "days"}}, "y": {"field": "y", "type": "quantitative", "scale": {"domain": [2.572, 3.2], "nice": false, "zero": false}, "axis": {"values": [2.6, 2.7, 2.8, 2.9, 3, 3.1, 3.2], "format": "~g", "title": "Log(CRP) > 2"}}}},
   {"mark": {"type": "line", "clip": true, "strokeOpacity": 0}, "encoding": {"x": {"field": "x", "type": "quantitative", "axis": {"orient": "top", "values": [100, 200, 300, 400, 500], "labels": false, "title": null}}, "y": {"field": "y", "type": "quantitative", "axis": {"orient": "right", "values": [2.6, 2.7, 2.8, 2.9, 3, 3.1, 3.2], "labels": false, "title": null}}}}
  ],
  "resolve": {"axis": {"x": "independent", "y": "independent"}}},
 {"width": 193, "height": 275, "title": {"text": "(d)", "offset": 13}, "data": {"name": "d"},
  "layer": [
   {"mark": {"type": "line", "clip": true}, "encoding": {"x": {"field": "x", "type": "quantitative", "scale": {"domain": [50, 80], "nice": false, "zero": false}, "axis": {"values": [50, 60, 70, 80], "title": "age"}}, "y": {"field": "y", "type": "quantitative", "scale": {"domain": [0, 0.348], "nice": false, "zero": false}, "axis": {"values": [0, 0.05, 0.1, 0.15, 0.2, 0.25, 0.3], "format": "~g", "title": "Predicted mean infection"}}, "detail": {"field": "s"}}},
   {"mark": {"type": "line", "clip": true, "strokeOpacity": 0}, "encoding": {"x": {"field": "x", "type": "quantitative", "axis": {"orient": "top", "values": [50, 60, 70, 80], "labels": false, "title": null}}, "y": {"field": "y", "type": "quantitative", "axis": {"orient": "right", "values": [0, 0.05, 0.1, 0.15, 0.2, 0.25, 0.3], "labels": false, "title": null}}, "detail": {"field": "s"}}}
  ],
  "resolve": {"axis": {"x": "independent", "y": "independent"}}},
 {"width": 193, "height": 275, "title": {"text": "(e)", "offset": 5}, "data": {"name": "e"},
  "layer": [
   {"mark": {"type": "line", "clip": true}, "encoding": {"x": {"field": "x", "type": "quantitative", "scale": {"domain": [50, 80], "nice": false, "zero": false}, "axis": {"values": [50, 60, 70, 80], "title": "age"}}, "y": {"field": "y", "type": "quantitative", "scale": {"domain": [0.25, 2.5], "nice": false, "zero": false}, "axis": {"values": [0.5, 1, 1.5, 2, 2.5], "format": "~g", "title": "Log(CRP) trajectories"}}, "detail": {"field": "s"}}},
   {"mark": {"type": "line", "clip": true, "strokeOpacity": 0}, "encoding": {"x": {"field": "x", "type": "quantitative", "axis": {"orient": "top", "values": [50, 60, 70, 80], "labels": false, "title": null}}, "y": {"field": "y", "type": "quantitative", "axis": {"orient": "right", "values": [0.5, 1, 1.5, 2, 2.5], "labels": false, "title": null}}, "detail": {"field": "s"}}}
  ],
  "resolve": {"axis": {"x": "independent", "y": "independent"}}},
 {"width": 193, "height": 275, "title": {"text": "(f)", "offset": 13}, "data": {"name": "f"},
  "layer": [
   {"mark": {"type": "line", "clip": true}, "encoding": {"x": {"field": "x", "type": "quantitative", "scale": {"domain": [100, 550], "nice": false, "zero": false}, "axis": {"values": [100, 200, 300, 400, 500], "title": "days"}}, "y": {"field": "y", "type": "quantitative", "scale": {"domain": [0.9, 1.349], "nice": false, "zero": false}, "axis": {"values": [0.9, 1, 1.1, 1.2, 1.3], "format": "~g", "title": "Log(CRP) < 2"}}}},
   {"mark": {"type": "line", "clip": true, "strokeOpacity": 0}, "encoding": {"x": {"field": "x", "type": "quantitative", "axis": {"orient": "top", "values": [100, 200, 300, 400, 500], "labels": false, "title": null}}, "y": {"field": "y", "type": "quantitative", "axis": {"orient": "right", "values": [0.9, 1, 1.1, 1.2, 1.3], "labels": false, "title": null}}}}
  ],
  "resolve": {"axis": {"x": "independent", "y": "independent"}}}
]
}
